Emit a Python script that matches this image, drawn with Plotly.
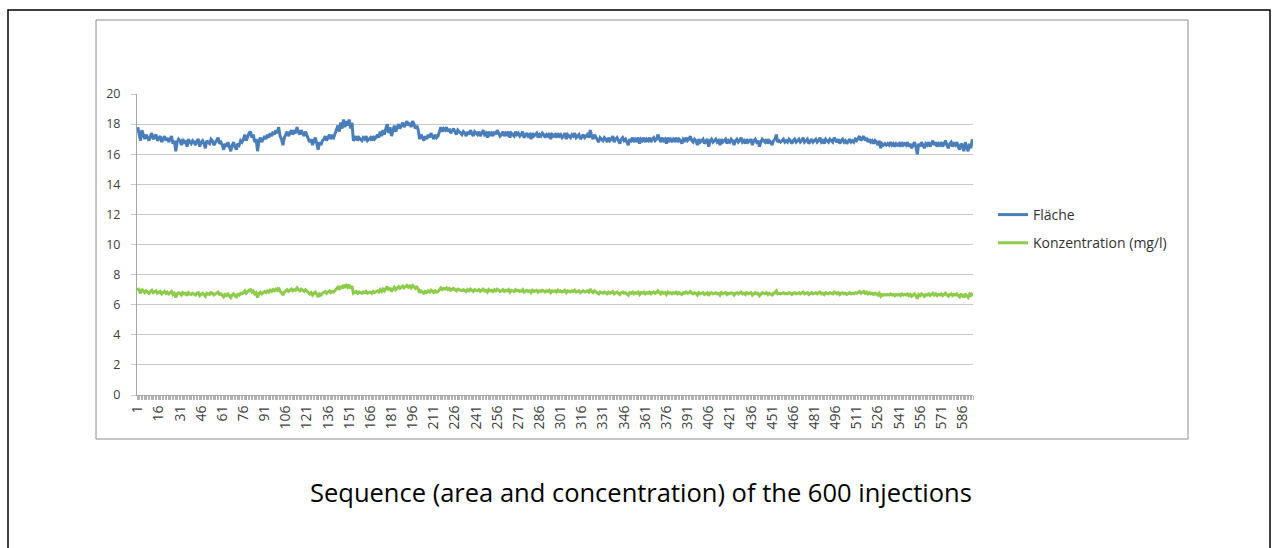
import plotly.graph_objects as go

# Injection sequence: peak area ("Fläche") per injection
flaeche = [
    17.8, 17.3, 16.9, 17.6, 17.2, 17.0, 17.3, 17.1, 16.9, 17.2,
    17.4, 17.0, 17.2, 17.3, 16.9, 17.1, 17.2, 16.8, 17.0, 17.2,
    16.9, 17.1, 16.8, 17.0, 17.2, 16.7, 16.9, 16.2, 16.8, 17.0,
    16.9, 16.6, 17.0, 16.8, 16.9, 16.5, 17.0, 16.8, 16.7, 16.9,
    16.8, 16.6, 16.9, 17.0, 16.5, 16.8, 16.9, 16.7, 16.4, 16.9,
    16.8, 16.7, 17.0, 16.9, 16.6, 16.8, 16.9, 17.1, 16.7, 16.8,
    16.6, 16.3, 16.7, 16.5, 16.8, 16.4, 16.2, 16.6, 16.8, 16.5,
    16.3, 16.7, 16.6, 16.9, 16.8, 17.0, 17.3, 16.9, 17.2, 17.4,
    17.5, 17.1, 17.3, 16.8, 17.0, 16.2, 16.9, 17.1, 16.8, 17.0,
    17.2, 17.0, 17.3, 17.1, 17.4, 17.2, 17.5, 17.3, 17.6, 17.4,
    17.8, 17.2, 17.0, 16.6, 17.1, 17.3, 17.5, 17.2, 17.4, 17.6,
    17.3, 17.5, 17.4, 17.8, 17.5, 17.3, 17.6, 17.4, 17.2, 17.5,
    17.3, 17.1, 16.8, 17.0, 16.6, 16.9, 17.1, 16.7, 16.3, 16.8,
    16.6, 16.9, 17.0, 17.2, 16.9, 17.1, 17.3, 17.0, 17.2, 17.1,
    17.4, 17.6, 17.9, 17.5, 18.1, 17.7, 18.3, 17.8, 18.2, 17.9,
    18.3, 17.7, 18.1, 16.9, 17.0, 17.2, 16.9, 17.1, 17.0, 16.9,
    17.1, 17.0, 17.2, 16.9, 17.0, 17.1, 16.9, 17.2, 17.0, 17.1,
    17.3, 17.1, 17.5, 17.2, 17.6, 17.3, 17.7, 18.0, 17.4, 17.8,
    17.2, 17.6, 17.9, 17.5, 17.8, 18.0, 17.7, 17.9, 18.1, 17.8,
    18.0, 18.2, 17.9, 18.1, 17.8, 18.2, 18.0, 17.7, 17.9, 17.6,
    17.0, 17.3, 17.1, 16.9, 17.2, 17.0, 17.3, 17.1, 17.4, 17.2,
    17.0, 17.3, 17.1, 17.2, 17.6, 17.8, 17.5, 17.7, 17.6, 17.8,
    17.5, 17.7, 17.4, 17.6, 17.7, 17.5, 17.3, 17.6, 17.5, 17.4,
    17.3, 17.5, 17.4, 17.2, 17.5, 17.3, 17.6, 17.4, 17.2, 17.5,
    17.4, 17.3, 17.5, 17.2, 17.4, 17.6, 17.3, 17.4, 17.1, 17.5,
    17.3, 17.4, 17.2, 17.5, 17.3, 17.6, 17.4, 17.2, 17.3, 17.5,
    17.2, 17.4, 17.3, 17.5, 17.1, 17.4, 17.3, 17.2, 17.5, 17.3,
    17.4, 17.2, 17.3, 17.5, 17.1, 17.3, 17.4, 17.2, 17.3, 17.0,
    17.4, 17.2, 17.3, 17.4, 17.1, 17.3, 17.2, 17.4, 17.3, 17.1,
    17.3, 17.2, 17.4, 17.0, 17.3, 17.2, 17.3, 17.1, 17.4, 17.2,
    17.3, 17.1, 17.2, 17.4, 17.0, 17.3, 17.2, 17.1, 17.3, 17.2,
    17.4, 17.1, 17.2, 17.3, 17.0, 17.2, 17.3, 17.1, 17.2, 17.3,
    17.1, 17.6, 17.2, 17.0, 17.3, 17.1, 17.0, 16.8, 17.1, 17.0,
    16.9, 17.1, 17.0, 16.8, 17.1, 16.9, 17.0, 17.2, 16.8, 17.0,
    17.1, 16.9, 16.7, 17.0, 17.1, 16.9, 17.0, 16.8, 16.6, 17.0,
    16.9, 17.1, 16.8, 17.0, 16.9, 17.1, 16.7, 17.0, 16.9, 17.1,
    16.8, 17.0, 16.9, 17.1, 16.8, 17.0, 17.1, 16.9, 17.0, 17.3,
    17.0, 16.8, 17.1, 16.9, 17.0, 16.7, 17.1, 16.9, 17.0, 16.8,
    17.0, 16.9, 17.1, 16.8, 17.0, 16.9, 16.7, 17.0, 16.9, 17.1,
    16.9, 17.0, 17.2, 16.9, 16.8, 17.0, 16.9, 16.6, 17.0, 16.8,
    16.9, 17.0, 16.7, 16.9, 17.0, 16.5, 16.9, 17.0, 16.8, 16.9,
    17.0, 16.8, 16.9, 16.6, 17.0, 16.8, 16.9, 17.0, 16.7, 16.9,
    16.8, 17.0, 16.9, 16.6, 16.9, 17.0, 16.8, 16.9, 17.1, 16.8,
    16.9, 16.7, 17.0, 16.8, 16.9, 17.0, 16.6, 16.9, 17.0, 16.8,
    16.9, 16.5, 16.8, 17.0, 16.9, 16.8, 17.0, 16.7, 16.9, 16.8,
    16.6, 16.9, 17.0, 17.3, 16.8, 16.9, 16.8, 16.9, 17.0, 16.8,
    16.9, 16.8, 17.0, 16.9, 16.7, 16.9, 17.0, 16.8, 16.9, 17.0,
    16.8, 16.9, 17.1, 16.8, 16.9, 17.0, 16.7, 16.9, 17.0, 16.8,
    16.9, 17.0, 16.8, 16.9, 17.1, 16.8, 16.9, 16.7, 17.0, 16.9,
    16.8, 17.0, 16.9, 16.8, 17.1, 16.9, 16.8, 17.0, 16.7, 16.9,
    17.0, 16.8, 16.9, 16.7, 16.9, 17.0, 16.8, 16.9, 16.8, 17.0,
    16.9, 17.1, 17.2, 16.9, 17.1, 17.2, 16.9, 17.1, 16.8, 17.0,
    16.8, 16.9, 16.7, 16.9, 16.8, 16.6, 16.9, 16.4, 16.7, 16.6,
    16.7, 16.6, 16.7, 16.6, 16.8, 16.6, 16.7, 16.5, 16.7, 16.6,
    16.7, 16.5, 16.8, 16.6, 16.7, 16.6, 16.8, 16.5, 16.7, 16.4,
    16.6, 16.8, 16.5, 16.0, 16.7, 16.5, 16.8, 16.6, 16.4, 16.7,
    16.6, 16.8, 16.5, 16.7, 16.9, 16.6, 16.8, 16.5, 16.7, 16.6,
    16.8, 16.5, 16.7, 16.9, 16.6, 16.4, 16.7, 16.8, 16.5, 16.7,
    16.6, 16.8, 16.5, 16.3, 16.7, 16.6, 16.2, 16.8, 16.5, 16.2,
    16.7, 16.4, 17.0,
]

# Concentration (mg/l) per injection
konzentration = [
    7.12, 6.92, 6.76, 7.04, 6.88, 6.80, 6.92, 6.84, 6.76, 6.88,
    6.96, 6.80, 6.88, 6.92, 6.76, 6.84, 6.88, 6.72, 6.80, 6.88,
    6.76, 6.84, 6.72, 6.80, 6.88, 6.68, 6.76, 6.48, 6.72, 6.80,
    6.76, 6.64, 6.80, 6.72, 6.76, 6.60, 6.80, 6.72, 6.68, 6.76,
    6.72, 6.64, 6.76, 6.80, 6.60, 6.72, 6.76, 6.68, 6.56, 6.76,
    6.72, 6.68, 6.80, 6.76, 6.64, 6.72, 6.76, 6.84, 6.68, 6.72,
    6.64, 6.52, 6.68, 6.60, 6.72, 6.56, 6.48, 6.64, 6.72, 6.60,
    6.52, 6.68, 6.64, 6.76, 6.72, 6.80, 6.92, 6.76, 6.88, 6.96,
    7.00, 6.84, 6.92, 6.72, 6.80, 6.48, 6.76, 6.84, 6.72, 6.80,
    6.88, 6.80, 6.92, 6.84, 6.96, 6.88, 7.00, 6.92, 7.04, 6.96,
    7.12, 6.88, 6.80, 6.64, 6.84, 6.92, 7.00, 6.88, 6.96, 7.04,
    6.92, 7.00, 6.96, 7.12, 7.00, 6.92, 7.04, 6.96, 6.88, 7.00,
    6.92, 6.84, 6.72, 6.80, 6.64, 6.76, 6.84, 6.68, 6.52, 6.72,
    6.64, 6.76, 6.80, 6.88, 6.76, 6.84, 6.92, 6.80, 6.88, 6.84,
    6.96, 7.04, 7.16, 7.00, 7.24, 7.08, 7.32, 7.12, 7.28, 7.16,
    7.32, 7.08, 7.24, 6.76, 6.80, 6.88, 6.76, 6.84, 6.80, 6.76,
    6.84, 6.80, 6.88, 6.76, 6.80, 6.84, 6.76, 6.88, 6.80, 6.84,
    6.92, 6.84, 7.00, 6.88, 7.04, 6.92, 7.08, 7.20, 6.96, 7.12,
    6.88, 7.04, 7.16, 7.00, 7.12, 7.20, 7.08, 7.16, 7.24, 7.12,
    7.20, 7.28, 7.16, 7.24, 7.12, 7.28, 7.20, 7.08, 7.16, 7.04,
    6.80, 6.92, 6.84, 6.76, 6.88, 6.80, 6.92, 6.84, 6.96, 6.88,
    6.80, 6.92, 6.84, 6.88, 7.04, 7.12, 7.00, 7.08, 7.04, 7.12,
    7.00, 7.08, 6.96, 7.04, 7.08, 7.00, 6.92, 7.04, 7.00, 6.96,
    6.92, 7.00, 6.96, 6.88, 7.00, 6.92, 7.04, 6.96, 6.88, 7.00,
    6.96, 6.92, 7.00, 6.88, 6.96, 7.04, 6.92, 6.96, 6.84, 7.00,
    6.92, 6.96, 6.88, 7.00, 6.92, 7.04, 6.96, 6.88, 6.92, 7.00,
    6.88, 6.96, 6.92, 7.00, 6.84, 6.96, 6.92, 6.88, 7.00, 6.92,
    6.96, 6.88, 6.92, 7.00, 6.84, 6.92, 6.96, 6.88, 6.92, 6.80,
    6.96, 6.88, 6.92, 6.96, 6.84, 6.92, 6.88, 6.96, 6.92, 6.84,
    6.92, 6.88, 6.96, 6.80, 6.92, 6.88, 6.92, 6.84, 6.96, 6.88,
    6.92, 6.84, 6.88, 6.96, 6.80, 6.92, 6.88, 6.84, 6.92, 6.88,
    6.96, 6.84, 6.88, 6.92, 6.80, 6.88, 6.92, 6.84, 6.88, 6.92,
    6.84, 7.04, 6.88, 6.80, 6.92, 6.84, 6.80, 6.72, 6.84, 6.80,
    6.76, 6.84, 6.80, 6.72, 6.84, 6.76, 6.80, 6.88, 6.72, 6.80,
    6.84, 6.76, 6.68, 6.80, 6.84, 6.76, 6.80, 6.72, 6.64, 6.80,
    6.76, 6.84, 6.72, 6.80, 6.76, 6.84, 6.68, 6.80, 6.76, 6.84,
    6.72, 6.80, 6.76, 6.84, 6.72, 6.80, 6.84, 6.76, 6.80, 6.92,
    6.80, 6.72, 6.84, 6.76, 6.80, 6.68, 6.84, 6.76, 6.80, 6.72,
    6.80, 6.76, 6.84, 6.72, 6.80, 6.76, 6.68, 6.80, 6.76, 6.84,
    6.76, 6.80, 6.88, 6.76, 6.72, 6.80, 6.76, 6.64, 6.80, 6.72,
    6.76, 6.80, 6.68, 6.76, 6.80, 6.60, 6.76, 6.80, 6.72, 6.76,
    6.80, 6.72, 6.76, 6.64, 6.80, 6.72, 6.76, 6.80, 6.68, 6.76,
    6.72, 6.80, 6.76, 6.64, 6.76, 6.80, 6.72, 6.76, 6.84, 6.72,
    6.76, 6.68, 6.80, 6.72, 6.76, 6.80, 6.64, 6.76, 6.80, 6.72,
    6.76, 6.60, 6.72, 6.80, 6.76, 6.72, 6.80, 6.68, 6.76, 6.72,
    6.64, 6.76, 6.80, 6.92, 6.72, 6.76, 6.72, 6.76, 6.80, 6.72,
    6.76, 6.72, 6.80, 6.76, 6.68, 6.76, 6.80, 6.72, 6.76, 6.80,
    6.72, 6.76, 6.84, 6.72, 6.76, 6.80, 6.68, 6.76, 6.80, 6.72,
    6.76, 6.80, 6.72, 6.76, 6.84, 6.72, 6.76, 6.68, 6.80, 6.76,
    6.72, 6.80, 6.76, 6.72, 6.84, 6.76, 6.72, 6.80, 6.68, 6.76,
    6.80, 6.72, 6.76, 6.68, 6.76, 6.80, 6.72, 6.76, 6.72, 6.80,
    6.76, 6.84, 6.88, 6.76, 6.84, 6.88, 6.76, 6.84, 6.72, 6.80,
    6.72, 6.76, 6.68, 6.76, 6.72, 6.64, 6.76, 6.56, 6.68, 6.64,
    6.68, 6.64, 6.68, 6.64, 6.72, 6.64, 6.68, 6.60, 6.68, 6.64,
    6.68, 6.60, 6.72, 6.64, 6.68, 6.64, 6.72, 6.60, 6.68, 6.56,
    6.64, 6.72, 6.60, 6.40, 6.68, 6.60, 6.72, 6.64, 6.56, 6.68,
    6.64, 6.72, 6.60, 6.68, 6.76, 6.64, 6.72, 6.60, 6.68, 6.64,
    6.72, 6.60, 6.68, 6.76, 6.64, 6.56, 6.68, 6.72, 6.60, 6.68,
    6.64, 6.72, 6.60, 6.52, 6.68, 6.64, 6.48, 6.72, 6.60, 6.48,
    6.68, 6.56, 6.80,
]

injektion = list(range(1, len(flaeche) + 1))

series_names = ["Fläche", "Konzentration (mg/l)"]
series_colors = ["#4A7EBB", "#8DCB4A"]
caption = "Sequence (area and concentration) of the 600 injections"

W, H = 1273, 548
# plot area in pixels
L, R, T, B = 137, 973, 94, 395


def px(x):
    return (x - L) / (R - L)


def py(y):
    return (B - y) / (B - T)


font = "'Open Sans', Lato, sans-serif"

fig = go.Figure()
for name, vals, col in zip(series_names, [flaeche, konzentration], series_colors):
    fig.add_trace(go.Scatter(
        x=injektion, y=vals, mode="lines", name=name, legendgroup=name,
        line=dict(color=col, width=3),
    ))

n = len(injektion)
fig.update_layout(
    width=W, height=H,
    margin=dict(l=L, r=W - R, t=T, b=H - B, pad=0),
    paper_bgcolor="white", plot_bgcolor="white",
    font=dict(family=font, size=12, color="#404040"),
    showlegend=True,
    legend=dict(
        x=px(993), y=py(229), xanchor="left", yanchor="middle",
        traceorder="grouped", tracegroupgap=7,
        font=dict(size=14, color="#333333"),
        bgcolor="rgba(0,0,0,0)", itemwidth=30,
    ),
    xaxis=dict(
        range=[0.5, n + 0.5], tickmode="linear", tick0=1, dtick=15,
        tickangle=-90, showgrid=False, zeroline=False,
        showline=True, linecolor="#A6A6A6", linewidth=1,
        ticks="", ticklen=0, ticklabelstandoff=4,
        minor=dict(ticks="outside", tick0=0.5, dtick=1, ticklen=4,
                   tickcolor="#B3B3B3", tickwidth=1, showgrid=False),
        tickfont=dict(size=14, color="#404040"),
    ),
    yaxis=dict(
        range=[0, 20], tickmode="linear", tick0=0, dtick=2,
        showgrid=True, gridcolor="#C8C8C8", gridwidth=1, zeroline=False,
        showline=True, linecolor="#A6A6A6", linewidth=1,
        ticks="outside", ticklen=5, tickcolor="#C8C8C8",
        ticklabelstandoff=8,
        tickfont=dict(size=12.5, color="#404040"),
    ),
)

# chart area border (grey) and document frame (black)
fig.add_shape(type="rect", xref="paper", yref="paper",
              x0=px(96), x1=px(1188), y0=py(439), y1=py(20),
              line=dict(color="#8C8C8C", width=1), layer="below")
fig.add_shape(type="rect", xref="paper", yref="paper",
              x0=px(8), x1=px(1270), y0=py(600), y1=py(10),
              line=dict(color="#000000", width=1.5), layer="below")

fig.add_annotation(text=caption, xref="paper", yref="paper",
                   x=px(641), y=py(492), xanchor="center", yanchor="middle",
                   showarrow=False, font=dict(family=font, size=25.5, color="#000000"))

fig.write_html("out.html", config={"displayModeBar": False},
               post_script="document.body.style.margin='0';")
